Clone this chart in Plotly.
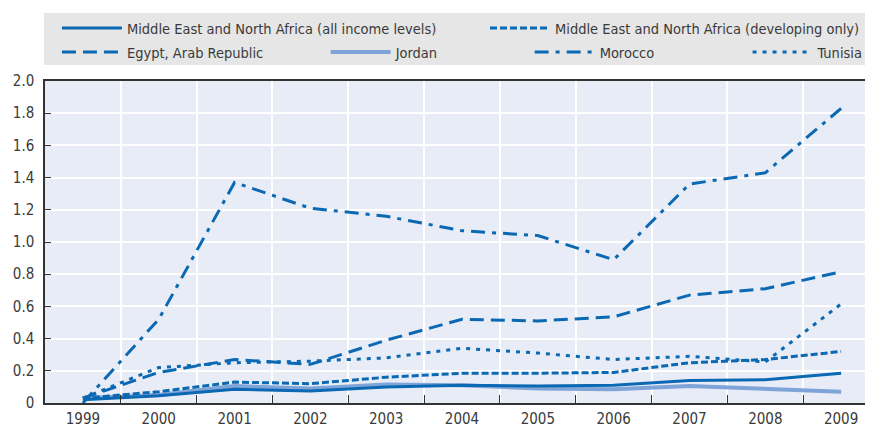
import plotly.graph_objects as go

years = ["1999", "2000", "2001", "2002", "2003", "2004", "2005", "2006", "2007", "2008", "2009"]

mena_all = [0.02, 0.045, 0.085, 0.075, 0.10, 0.11, 0.105, 0.11, 0.14, 0.145, 0.185]
mena_dev = [0.03, 0.07, 0.13, 0.12, 0.16, 0.185, 0.185, 0.19, 0.25, 0.27, 0.32]
egypt = [0.03, 0.19, 0.27, 0.24, 0.39, 0.52, 0.51, 0.535, 0.67, 0.71, 0.815]
jordan = [0.03, 0.05, 0.105, 0.09, 0.115, 0.11, 0.09, 0.085, 0.105, 0.09, 0.07]
morocco = [0.0, 0.52, 1.37, 1.21, 1.16, 1.07, 1.04, 0.89, 1.36, 1.43, 1.83]
tunisia = [0.03, 0.22, 0.25, 0.26, 0.28, 0.34, 0.31, 0.27, 0.29, 0.255, 0.615]

y_ticks = [0, 0.2, 0.4, 0.6, 0.8, 1.0, 1.2, 1.4, 1.6, 1.8, 2.0]
y_labels = ["0", "0.2", "0.4", "0.6", "0.8", "1.0", "1.2", "1.4", "1.6", "1.8", "2.0"]

BLUE = "#0b68b3"
LIGHT = "#7fa4d8"
FONT = "Liberation Sans Narrow, Arial Narrow, DejaVu Sans Condensed, sans-serif"
TXT = "#3a3a3a"

series = [
    ("Middle East and North Africa (all income levels)", mena_all, BLUE, "solid", 3, "legend"),
    ("Middle East and North Africa (developing only)", mena_dev, BLUE, "7px,3px", 3, "legend2"),
    ("Egypt, Arab Republic", egypt, BLUE, "14px,7px", 3, "legend3"),
    ("Jordan", jordan, LIGHT, "solid", 4, "legend4"),
    ("Morocco", morocco, BLUE, "14px,7px,4px,7px", 3, "legend5"),
    ("Tunisia", tunisia, BLUE, "4px,6px", 3, "legend6"),
]

fig = go.Figure()
order = [3, 0, 1, 2, 4, 5]
for i in order:
    name, vals, col, dash, w, lg = series[i]
    fig.add_trace(go.Scatter(
        x=years, y=vals, mode="lines", name=name,
        line=dict(color=col, dash=dash, width=w),
        legend=lg,
    ))

W, H = 869, 428
ml, mr, mt, mb = 45, 0, 81, 25
pw, ph = W - ml - mr, H - mt - mb

def px(xp):
    return (xp - ml) / pw

def py(yp):
    return (H - mb - yp) / ph

# (x pixel, y pixel, anchor)
leg_pos = {
    "legend": (57, 28, "left"),
    "legend2": (W, 28, "right"),
    "legend3": (57, 52, "left"),
    "legend4": (327, 52, "left"),
    "legend5": (532, 52, "left"),
    "legend6": (751, 52, "left"),
}
legends = {}
for k, (lx, ly, anc) in leg_pos.items():
    legends[k] = dict(x=px(lx), y=py(ly), xanchor=anc, yanchor="middle",
                      bgcolor="rgba(0,0,0,0)", borderwidth=0,
                      font=dict(family=FONT, size=14.5, color=TXT),
                      orientation="h", itemwidth=60)

fig.update_layout(
    width=W, height=H,
    margin=dict(l=ml, r=mr, t=mt, b=mb),
    paper_bgcolor="white",
    plot_bgcolor="#e8ecf6",
    font=dict(family=FONT, size=15, color=TXT),
    showlegend=True,
    **legends,
    xaxis=dict(
        type="category", range=[-0.5, 10.315], tickson="boundaries",
        showgrid=True, gridcolor="white", gridwidth=1.5,
        ticks="inside", ticklen=8, tickcolor="#333", tickwidth=1.2,
        showline=True, linecolor="#333", linewidth=1.5, mirror=True,
        tickfont=dict(family=FONT, size=15, color=TXT),
        ticklabelstandoff=1, automargin=False,
        fixedrange=True,
    ),
    yaxis=dict(
        range=[0, 2.0], tickvals=y_ticks, ticktext=y_labels,
        showgrid=True, gridcolor="white", gridwidth=1.5,
        ticks="inside", ticklen=6, tickcolor="#333", tickwidth=1.2,
        showline=True, linecolor="#333", linewidth=1.5,
        zeroline=False,
        tickfont=dict(family=FONT, size=15, color=TXT),
        ticklabelstandoff=6, automargin=False,
        fixedrange=True,
    ),
    shapes=[dict(type="rect", xref="paper", yref="paper",
                 x0=px(44), x1=1.0, y0=py(65), y1=py(13),
                 fillcolor="#e6e6e6", line=dict(width=0), layer="below")],
)

fig.write_html("out.html", config={"displayModeBar": False},
               post_script="document.body.style.margin='0px';document.body.style.overflow='hidden';")
